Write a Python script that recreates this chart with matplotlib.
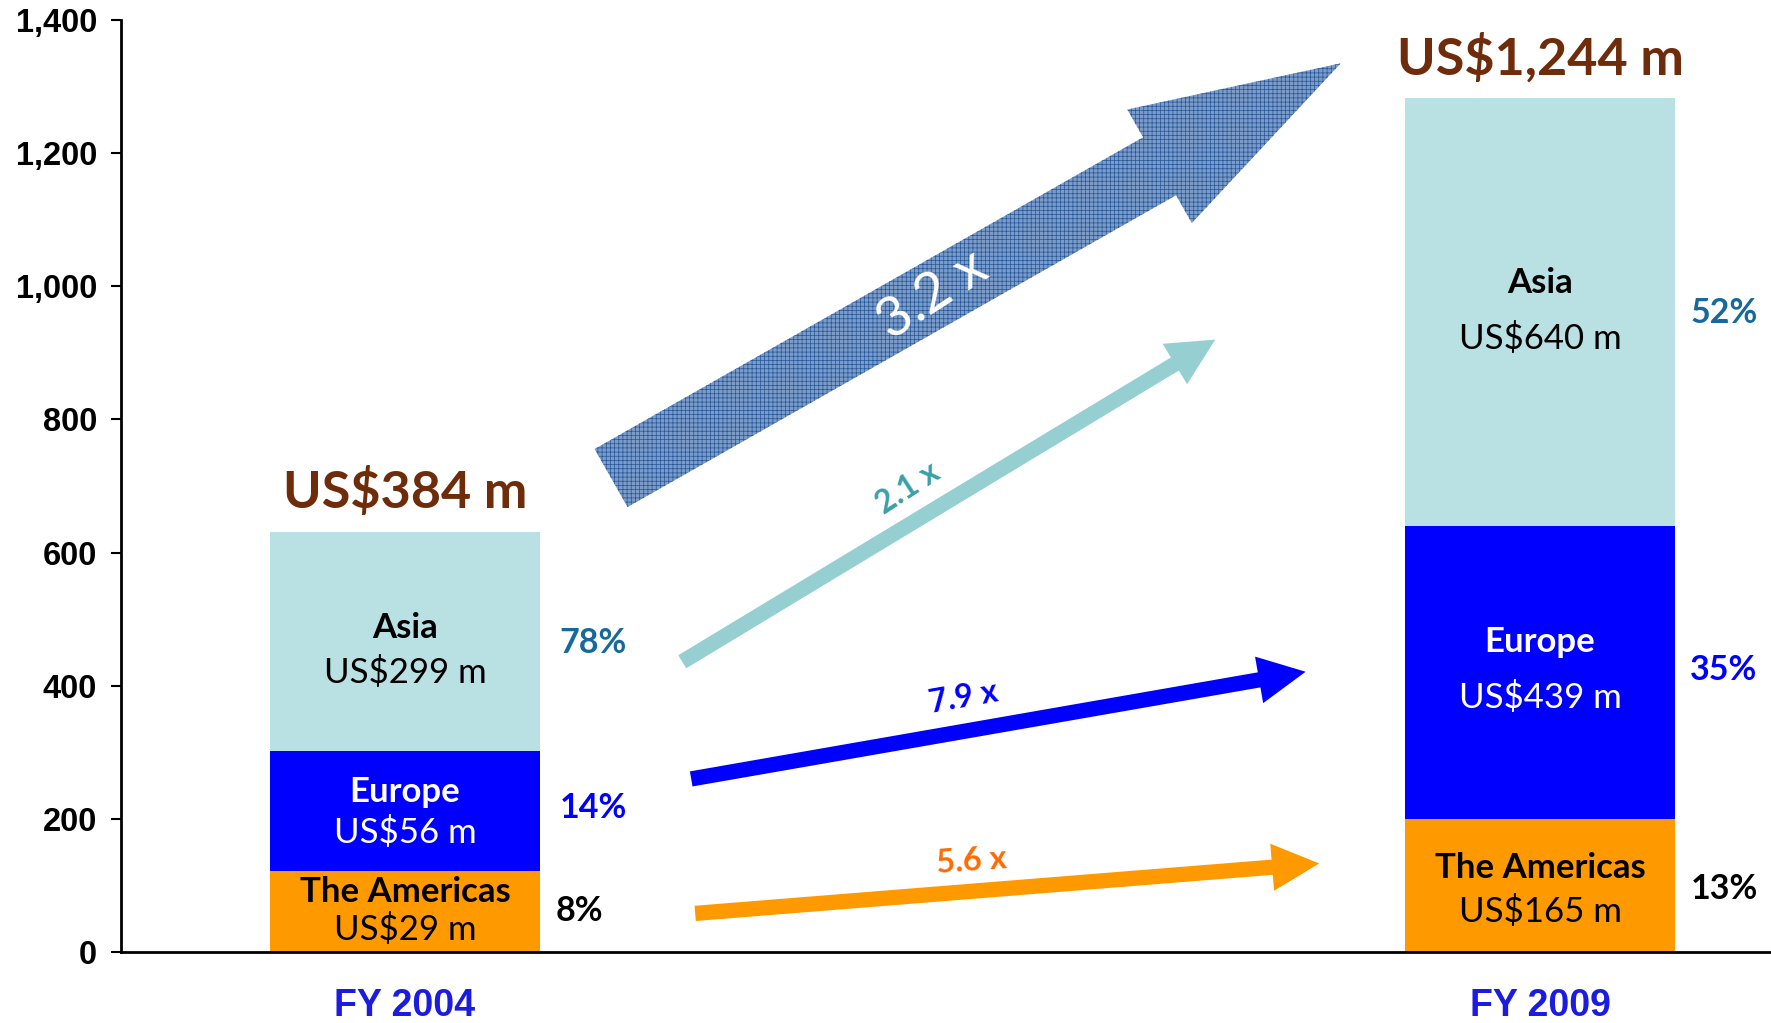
import matplotlib

matplotlib.use("Agg")

import matplotlib.pyplot as plt
from matplotlib.patches import ArrowStyle

# bar heights as drawn on the axis (the picture's scale, not the labels)
years = ["FY 2004", "FY 2009"]
regions = ["The Americas", "Europe", "Asia"]
heights = {
    "The Americas": [122, 200],
    "Europe": [180, 440],
    "Asia": [329, 643],
}
value_labels = {
    "The Americas": ["US$29 m", "US$165 m"],
    "Europe": ["US$56 m", "US$439 m"],
    "Asia": ["US$299 m", "US$640 m"],
}
shares = {
    "The Americas": ["8%", "13%"],
    "Europe": ["14%", "35%"],
    "Asia": ["78%", "52%"],
}
totals = ["US$384 m", "US$1,244 m"]
growth = {"total": "3.2 x", "Asia": "2.1 x", "Europe": "7.9 x",
          "The Americas": "5.6 x"}

COLORS = {"The Americas": "#FF9900", "Europe": "#0000FF", "Asia": "#B9E0E3"}
NAME_COLORS = {"The Americas": "black", "Europe": "white", "Asia": "black"}
SHARE_COLORS = {"The Americas": "black", "Europe": "#0000FF", "Asia": "#17699B"}
LABEL_FONT = "Lato"

# text layout inside the bars: (name y, value y) offsets from segment middle
LABEL_OFFSETS = {
    "The Americas": [(29, -27), (26, -39)],
    "Europe": [(29, -32), (45, -38)],
    "Asia": [(20, -47), (43, -40)],
}
SHARE_OFFSETS = {
    "The Americas": [0, -5],
    "Europe": [5, 4],
    "Asia": [-3, -1],
}

plt.rcParams["hatch.linewidth"] = 0.5

fig = plt.figure(figsize=(17.71, 10.23), dpi=100)
ax = fig.add_axes([0.0683, 0.0694, 0.9317, 0.911])

x = [0, 1]
bottom = [0, 0]
for reg in regions:
    h = heights[reg]
    ax.bar(x, h, width=0.238, bottom=bottom, color=COLORS[reg], zorder=2)
    for i in range(2):
        mid = bottom[i] + h[i] / 2
        dn, dv = LABEL_OFFSETS[reg][i]
        ax.text(x[i], mid + dn, reg, ha="center", va="center",
                fontsize=25, fontweight="bold", color=NAME_COLORS[reg],
                family=LABEL_FONT, zorder=3)
        ax.text(x[i], mid + dv, value_labels[reg][i], ha="center",
                va="center", fontsize=25, color=NAME_COLORS[reg],
                family=LABEL_FONT, zorder=3)
        if i == 0:
            xs = 0.154 if reg == "The Americas" else 0.166
        else:
            xs = 1.162
        ax.text(xs, mid + SHARE_OFFSETS[reg][i], shares[reg][i],
                ha="center", va="center", fontsize=24.5, fontweight="bold",
                color=SHARE_COLORS[reg], family=LABEL_FONT)
    bottom = [b + v for b, v in zip(bottom, h)]

for i in range(2):
    ax.text(x[i], bottom[i] + 22, totals[i], ha="center", va="bottom",
            fontsize=37.5, fontweight="bold", color="#6F2C0B",
            family=LABEL_FONT)

# growth arrows (annotation layout, data coords: tail -> tip)
arrows = [
    ("total", (0.1816, 712), (0.8244, 1335), 48, 94, 150),
    ("Asia", (0.2443, 436), (0.7139, 920), 11, 34, 34),
    ("Europe", (0.2522, 260), (0.7935, 421), 11, 34, 34),
    ("The Americas", (0.2557, 58), (0.8055, 133), 11, 34, 34),
]
arrow_colors = {"total": "#7C9BC6", "Asia": "#96CFD2", "Europe": "#0000FF",
                "The Americas": "#FF9900"}
for key, tail, tip, tw, hw, hl in arrows:
    props = dict(arrowstyle=ArrowStyle.Simple(head_length=hl, head_width=hw,
                                              tail_width=tw),
                 mutation_scale=1, shrinkA=0, shrinkB=0,
                 fc=arrow_colors[key], lw=0, ec=arrow_colors[key])
    if key == "total":
        props.update(ec="#24579A", hatch="++++")
    ax.annotate("", xy=tip, xytext=tail, arrowprops=props, zorder=1)

growth_text = [
    ("total", (0.465, 986), 33, "white", 40, "normal"),
    ("Asia", (0.443, 697), 33, "#3AA0A8", 23, "bold"),
    ("Europe", (0.492, 382), 10, "#0000FF", 23, "bold"),
    ("The Americas", (0.499, 137), 4, "#FF6A00", 23.5, "bold"),
]
for key, pos, rot, col, fs, fw in growth_text:
    ax.text(pos[0], pos[1], growth[key], ha="center", va="center",
            rotation=rot, rotation_mode="anchor", color=col, fontsize=fs,
            fontweight=fw, family=LABEL_FONT, zorder=3)

ax.set_xlim(-0.2502, 1.2035)
ax.set_ylim(0, 1400)
ax.set_yticks(range(0, 1401, 200))
ax.yaxis.set_major_formatter(matplotlib.ticker.StrMethodFormatter("{x:,.0f}"))
ax.tick_params(axis="y", length=7, width=1.5, pad=10, labelsize=23.5)
for lab in ax.get_yticklabels():
    lab.set_fontweight("bold")
    lab.set_family("Liberation Sans")
ax.set_xticks(x, years)
ax.tick_params(axis="x", length=0, pad=26, labelsize=27, labelcolor="#1C1CE0")
for lab in ax.get_xticklabels():
    lab.set_fontweight("bold")
    lab.set_family("Liberation Sans")
for s in ("top", "right"):
    ax.spines[s].set_visible(False)
ax.spines["left"].set_linewidth(2)
ax.spines["bottom"].set_linewidth(2)

fig.savefig("out.png", dpi=100)
